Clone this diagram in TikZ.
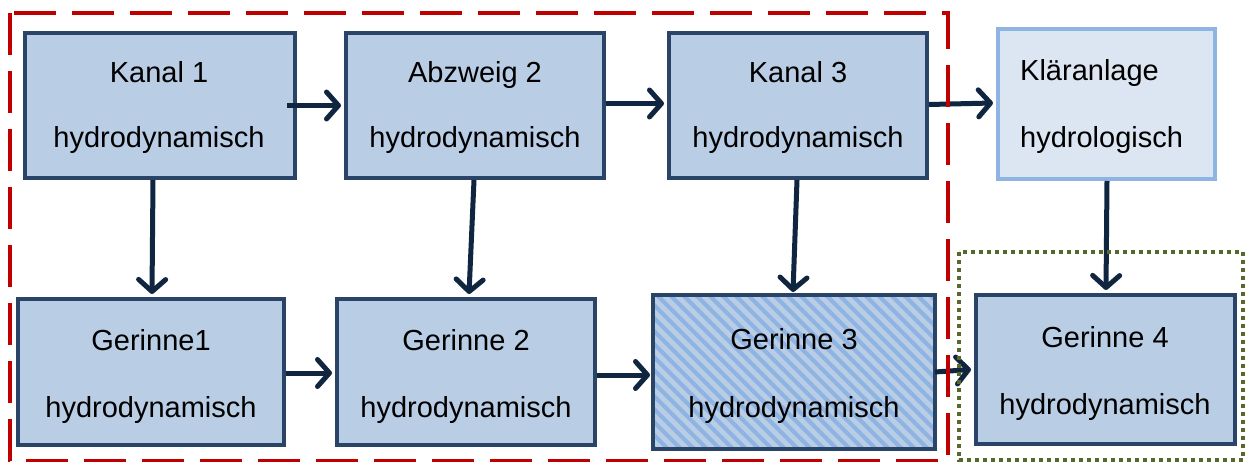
\documentclass[tikz,border=0pt]{standalone}
\usepackage{fontspec}
\setmainfont{Liberation Sans}
\usetikzlibrary{arrows.meta,calc}
\definecolor{boxfill}{HTML}{B9CDE5}
\definecolor{boxline}{HTML}{2A4467}
\definecolor{arrcol}{HTML}{10253F}
\definecolor{klfill}{HTML}{DCE6F2}
\definecolor{klline}{HTML}{8EB4E3}
\definecolor{redframe}{HTML}{C00000}
\definecolor{greenframe}{HTML}{56692B}
\definecolor{stripecol}{HTML}{8EB4E3}
\begin{document}
\begin{tikzpicture}[x=1pt,y=-1pt,
  box/.style={draw=boxline,fill=boxfill,line width=4pt,rectangle,inner sep=0pt},
  klbox/.style={draw=klline,fill=klfill,line width=4pt,rectangle,inner sep=0pt},
  lbl/.style={anchor=base,inner sep=0pt,font=\fontsize{29}{33}\selectfont},
  lbll/.style={anchor=base west,inner sep=0pt,font=\fontsize{29}{33}\selectfont},
  arr/.style={draw=arrcol,line width=5pt,-{Straight Barb[length=12pt,width=27pt,line cap=round,line join=round]}},
  stripe/.style={draw=stripecol,line width=4pt}]
\useasboundingbox (0,0) rectangle (1245,462);
\fill[white] (0,0) rectangle (1245,462);
% boxes
\node[box,minimum width=270pt,minimum height=145pt] (k1) at (160,105.5) {};
\node[box,minimum width=258pt,minimum height=145pt] (a2) at (475,105.5) {};
\node[box,minimum width=258pt,minimum height=145pt] (k3) at (798,105.5) {};
\node[klbox,minimum width=217pt,minimum height=150pt] (kl) at (1106.5,104) {};
\node[box,minimum width=266pt,minimum height=146pt] (g1) at (151,372) {};
\node[box,minimum width=258pt,minimum height=146pt] (g2) at (466,372) {};
\node[box,draw=none,minimum width=278pt,minimum height=150pt] (g3) at (794,372) {};
\node[box,minimum width=259pt,minimum height=149pt] (g4) at (1105.5,369.5) {};
% stripes in Gerinne 3
\begin{scope}
\clip (g3.south west) rectangle (g3.north east);
\foreach \i in {-170,-157,...,290} \draw[stripe] (653+\i,290) -- ++(170,170);
\end{scope}
\draw[draw=boxline,line width=4pt] (g3.south west) rectangle (g3.north east);
% labels
\node[lbl] (k1a) at (159,83) {Kanal 1};
\node[lbl] (k1b) at (159,148) {hydrodynamisch};
\node[lbl] (a2a) at (475,83) {Abzweig 2};
\node[lbl] (a2b) at (475,148) {hydrodynamisch};
\node[lbl] (k3a) at (798,83) {Kanal 3};
\node[lbl] (k3b) at (798,148) {hydrodynamisch};
\node[lbll] (kla) at (1020,81) {Kläranlage};
\node[lbll] (klb) at (1020,148) {hydrologisch};
\node[lbl] (g1a) at (151,350) {Gerinne1};
\node[lbl] (g1b) at (151,417) {hydrodynamisch};
\node[lbl] (g2a) at (466,350) {Gerinne 2};
\node[lbl] (g2b) at (466,417) {hydrodynamisch};
\node[lbl] (g3a) at (794,349) {Gerinne 3};
\node[lbl] (g3b) at (794,417) {hydrodynamisch};
\node[lbl] (g4a) at (1105,347) {Gerinne 4};
\node[lbl] (g4b) at (1105,414) {hydrodynamisch};
% arrows
\draw[arr] ([xshift=-10pt]k1.east) -- ([xshift=-3pt]a2.west);
\draw[arr] ([yshift=2pt]a2.east) -- ([xshift=-3pt,yshift=2pt]k3.west);
\draw[arr] ([yshift=1pt]k3.east) -- ([xshift=-3pt,yshift=1pt]kl.west);
\draw[arr] ([yshift=-1pt]g1.east) -- ([xshift=-3pt,yshift=-1pt]g2.west);
\draw[arr] ([yshift=-3pt]g2.east) -- ([xshift=-3pt,yshift=-3pt]g3.west);
\draw[arr] (g3.east) -- ([xshift=-3pt]g4.west);
\draw[arr] ([xshift=-7pt]k1.south) -- ([xshift=1pt,yshift=3pt]g1.north);
\draw[arr] ([xshift=-1pt]a2.south) -- ([xshift=3pt,yshift=3pt]g2.north);
\draw[arr] ([xshift=-1pt]k3.south) -- ([xshift=-1pt,yshift=3pt]g3.north);
\draw[arr] ([xshift=0.5pt]kl.south) -- ([xshift=0.5pt,yshift=3pt]g4.north);
% frames
\draw[redframe,line width=4pt,dash pattern=on 42pt off 16pt] (10,13) rectangle (948,461);
\draw[greenframe,line width=4pt,dash pattern=on 4pt off 4pt] (959,252) rectangle (1243,460);
\end{tikzpicture}
\end{document}
